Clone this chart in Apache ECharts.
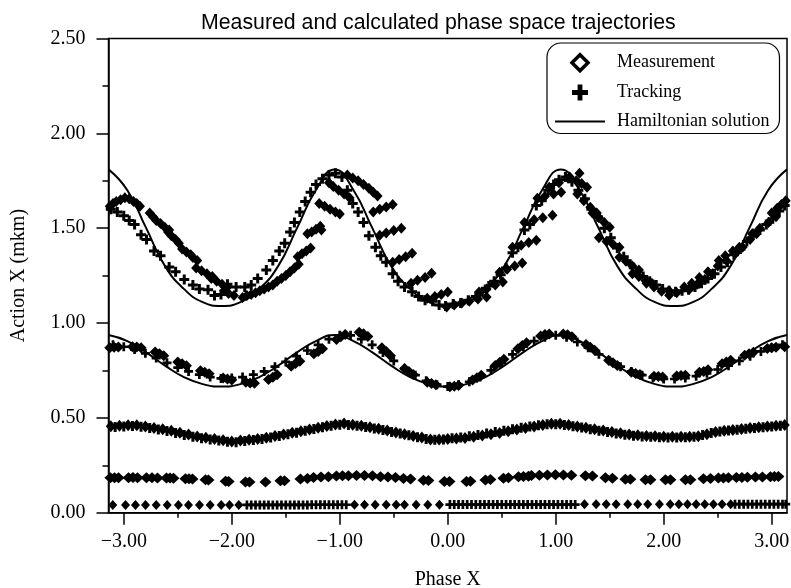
<!DOCTYPE html>
<html>
<head>
<meta charset="utf-8">
<title>Measured and calculated phase space trajectories</title>
<script src="https://cdn.jsdelivr.net/npm/echarts@6/dist/echarts.min.js"></script>
<style>
  html, body { margin: 0; padding: 0; background: #fff; }
  #chart { width: 791px; height: 588px; }
</style>
</head>
<body>
<div id="chart"></div>
<script>
// ---- Data -------------------------------------------------------------
// Phase samples (degrees) for the Hamiltonian solution curves
const PHASE_DEG = [-180,-170,-160,-150,-140,-130,-120,-110,-100,-90,-80,-70,-60,-50,-40,-30,-20,-10,
  0,10,20,30,40,50,60,70,80,90,100,110,120,130,140,150,160,170,180];

// Hamiltonian solution, outer invariant curve (action vs phase)
const HAM_OUTER = [1.81,1.70,1.50,1.30,1.18,1.11,1.09,1.11,1.18,1.30,1.50,1.70,1.81,1.70,1.50,1.30,1.18,1.11,
  1.09,1.11,1.18,1.30,1.50,1.70,1.81,1.70,1.50,1.30,1.18,1.11,1.09,1.11,1.18,1.30,1.50,1.70,1.81];

// Hamiltonian solution, inner invariant curve
const HAM_INNER = [0.937,0.905,0.845,0.775,0.715,0.678,0.665,0.678,0.715,0.775,0.845,0.905,0.937,0.905,0.845,0.775,0.715,0.678,
  0.665,0.678,0.715,0.775,0.845,0.905,0.937,0.905,0.845,0.775,0.715,0.678,0.665,0.678,0.715,0.775,0.845,0.905,0.937];

// Measured turns, largest amplitude [phase, action]
const MEAS_L1 = [
  [-3.13,1.615],[-3.10,1.63],[-3.07,1.64],[-3.03,1.65],[-2.99,1.66],[-2.95,1.655],
  [-2.91,1.64],[-2.88,1.63],[-2.85,1.615],
  [-2.76,1.58],[-2.73,1.56],
  [-2.70,1.54],[-2.66,1.525],[-2.62,1.505],[-2.58,1.49],
  [-2.59,1.48],[-2.56,1.46],[-2.52,1.44],[-2.49,1.42],
  [-2.46,1.39],[-2.42,1.375],[-2.38,1.36],
  [-2.36,1.345],[-2.32,1.33],
  [-2.33,1.29],[-2.28,1.275],[-2.23,1.26],[-2.18,1.245],
  [-2.19,1.235],[-2.14,1.22],[-2.09,1.205],[-2.04,1.19],
  [-2.07,1.17],[-2.03,1.155],[-1.98,1.145],
  [-1.90,1.135],[-1.86,1.145],[-1.82,1.15],[-1.78,1.16],[-1.74,1.17],[-1.70,1.18],[-1.66,1.19],
  [-1.62,1.20],[-1.58,1.22],[-1.54,1.235],[-1.50,1.25],[-1.46,1.27],[-1.42,1.29],[-1.38,1.31],
  [-1.39,1.35],[-1.35,1.365],[-1.31,1.38],[-1.27,1.395],
  [-1.30,1.47],[-1.26,1.48],[-1.22,1.495],[-1.18,1.51],
  [-1.17,1.49],
  [-1.19,1.63],[-1.14,1.615],[-1.09,1.60],[-1.04,1.585],[-1.00,1.575],
  [-1.10,1.74],[-1.06,1.72],[-1.01,1.70],[-0.96,1.68],[-0.91,1.66],
  [-0.93,1.78],[-0.88,1.765],[-0.83,1.75],[-0.78,1.73],[-0.73,1.71],[-0.69,1.69],[-0.65,1.67],
  [-0.69,1.585],[-0.63,1.60],[-0.57,1.612],[-0.51,1.625],
  [-0.63,1.463],[-0.57,1.475],[-0.50,1.488],[-0.43,1.50],
  [-0.51,1.32],[-0.45,1.335],[-0.39,1.35],[-0.33,1.368],
  [-0.34,1.21],[-0.28,1.225],[-0.21,1.24],[-0.15,1.263],
  [-0.19,1.13],[-0.12,1.14],[-0.06,1.15],[0.00,1.163],
  [-0.01,1.084],[0.06,1.095],[0.13,1.105],[0.20,1.115],[0.28,1.127],[0.36,1.137],
  [0.29,1.163],[0.36,1.18],[0.44,1.20],[0.51,1.216],
  [0.48,1.268],[0.55,1.284],[0.62,1.30],[0.69,1.316],
  [0.60,1.40],[0.68,1.41],[0.75,1.425],[0.82,1.437],
  [0.71,1.53],[0.80,1.545],[0.88,1.555],[0.97,1.568],
  [0.83,1.658],[0.90,1.668],[0.98,1.68],[1.05,1.69],
  [0.94,1.716],[1.03,1.74],[1.12,1.765],[1.22,1.79],
  [1.13,1.77],[1.19,1.75],[1.24,1.735],[1.29,1.716],
  [1.20,1.68],[1.26,1.645],[1.32,1.61],[1.38,1.58],
  [1.34,1.58],[1.40,1.555],[1.45,1.53],[1.50,1.505],
  [1.40,1.45],[1.47,1.43],[1.53,1.415],[1.59,1.40],
  [1.59,1.347],[1.65,1.325],[1.71,1.30],[1.77,1.28],
  [1.71,1.26],[1.77,1.245],[1.83,1.225],[1.89,1.21],
  [1.84,1.21],[1.91,1.19],[1.98,1.168],[2.05,1.147],
  [2.05,1.17],[2.12,1.16],[2.19,1.19],[2.26,1.21],
  [2.24,1.18],[2.31,1.205],[2.38,1.23],[2.45,1.26],
  [2.33,1.24],[2.41,1.27],[2.50,1.30],[2.58,1.33],
  [2.51,1.33],[2.57,1.355],[2.64,1.38],[2.70,1.40],
  [2.67,1.37],[2.73,1.40],[2.80,1.44],[2.86,1.47],
  [2.82,1.47],[2.89,1.50],[2.97,1.53],[3.04,1.56],
  [3.00,1.58],[3.05,1.605],[3.09,1.625],[3.13,1.645]
];

// Tracking, largest amplitude
const TRACK_L1 = [
  [-3.12,1.60],[-3.06,1.585],[-3.00,1.565],[-2.95,1.54],[-2.90,1.52],[-2.84,1.465],[-2.79,1.44],
  [-2.72,1.38],[-2.66,1.355],[-2.58,1.295],[-2.52,1.27],[-2.44,1.23],[-2.36,1.20],[-2.30,1.18],
  [-2.22,1.175],[-2.16,1.145],[-2.10,1.15],[-2.04,1.205],[-1.96,1.19],[-1.88,1.19],[-1.82,1.20],
  [-1.76,1.235],[-1.68,1.28],[-1.62,1.33],[-1.56,1.38],[-1.51,1.42],[-1.46,1.48],[-1.42,1.53],
  [-1.37,1.585],[-1.32,1.64],[-1.27,1.69],[-1.22,1.73],[-1.16,1.76],[-1.10,1.78],[-1.04,1.79],
  [-0.98,1.77],[-0.93,1.70],[-0.88,1.63],[-0.83,1.585],[-0.78,1.53],[-0.73,1.46],[-0.67,1.40],
  [-0.62,1.355],[-0.57,1.32],[-0.51,1.26],[-0.46,1.22],[-0.40,1.19],[-0.33,1.165],[-0.27,1.14],
  [-0.21,1.12],[-0.14,1.115],[-0.08,1.095],[-0.02,1.09],[0.05,1.10],[0.12,1.105],[0.19,1.12],
  [0.26,1.14],[0.32,1.165],[0.38,1.195],[0.43,1.22],[0.49,1.255],[0.54,1.29],[0.60,1.37],
  [0.65,1.40],[0.71,1.49],[0.76,1.52],[0.82,1.62],[0.87,1.645],[0.93,1.70],[0.98,1.73],
  [1.03,1.755],[1.09,1.77],[1.15,1.745],[1.21,1.70],[1.27,1.655],[1.33,1.60],[1.39,1.56],
  [1.45,1.50],[1.51,1.45],[1.57,1.395],[1.63,1.35],[1.69,1.31],[1.75,1.27],[1.81,1.245],
  [1.87,1.22],[1.93,1.20],[1.99,1.18],[2.05,1.17],[2.11,1.165],[2.17,1.17],[2.23,1.175],
  [2.29,1.19],[2.35,1.21],[2.41,1.235],[2.47,1.26],[2.53,1.295],[2.59,1.32],[2.65,1.36],
  [2.71,1.39],[2.77,1.43],[2.83,1.47],[2.89,1.49],[2.95,1.52],[3.01,1.55],[3.07,1.59],[3.12,1.62]
];

// Measured turns, second amplitude
const MEAS_L2 = [
  [-3.13,0.870],[-3.09,0.872],[-3.05,0.873],
  [-2.92,0.875],[-2.88,0.873],[-2.84,0.869],
  [-2.71,0.847],[-2.67,0.838],[-2.63,0.828],
  [-2.50,0.795],[-2.46,0.785],[-2.42,0.775],
  [-2.29,0.748],[-2.25,0.740],[-2.21,0.732],
  [-2.08,0.710],[-2.04,0.705],[-2.00,0.700],
  [-1.87,0.688],[-1.83,0.684],[-1.79,0.683],
  [-1.66,0.702],[-1.62,0.714],[-1.58,0.727],
  [-1.45,0.772],[-1.41,0.787],[-1.37,0.799],
  [-1.24,0.838],[-1.20,0.850],[-1.16,0.864],
  [-1.03,0.913],[-0.99,0.928],[-0.95,0.940],
  [-0.82,0.951],[-0.78,0.943],[-0.74,0.929],
  [-0.61,0.870],[-0.57,0.850],[-0.53,0.827],
  [-0.40,0.760],[-0.36,0.744],[-0.32,0.728],
  [-0.19,0.688],[-0.15,0.681],[-0.11,0.674],
  [0.02,0.664],[0.06,0.667],[0.10,0.670],
  [0.23,0.699],[0.27,0.711],[0.31,0.724],
  [0.44,0.776],[0.48,0.792],[0.52,0.809],
  [0.65,0.865],[0.69,0.881],[0.73,0.896],
  [0.86,0.932],[0.90,0.940],[0.94,0.942],
  [1.07,0.942],[1.11,0.938],[1.15,0.928],
  [1.28,0.887],[1.32,0.872],[1.36,0.856],
  [1.49,0.804],[1.53,0.790],[1.57,0.776],
  [1.70,0.740],[1.74,0.734],[1.78,0.728],
  [1.91,0.720],[1.95,0.718],[1.99,0.716],
  [2.12,0.721],[2.16,0.723],[2.20,0.725],
  [2.33,0.740],[2.37,0.745],[2.41,0.753],
  [2.54,0.785],[2.58,0.795],[2.62,0.804],
  [2.75,0.830],[2.79,0.838],[2.83,0.846],
  [2.96,0.866],[3.00,0.870],[3.04,0.872],
  [3.12,0.875]
];

// Tracking, second amplitude
const TRACK_L2 = [
  [-3.10,0.885],[-3.00,0.875],[-2.90,0.860],[-2.80,0.840],[-2.70,0.815],[-2.60,0.790],[-2.50,0.765],
  [-2.40,0.745],[-2.30,0.728],[-2.20,0.715],[-2.10,0.708],[-2.00,0.710],[-1.90,0.715],[-1.80,0.728],
  [-1.70,0.745],[-1.60,0.770],[-1.50,0.795],[-1.40,0.825],[-1.30,0.855],[-1.20,0.885],[-1.10,0.915],
  [-1.00,0.935],[-0.90,0.935],[-0.80,0.915],[-0.70,0.885],[-0.60,0.845],[-0.50,0.800],[-0.40,0.760],
  [-0.30,0.725],[-0.20,0.695],[-0.10,0.675],[0.00,0.665],[0.10,0.675],[0.20,0.690],[0.30,0.715],
  [0.40,0.750],[0.50,0.790],[0.60,0.835],[0.70,0.875],[0.80,0.905],[0.90,0.925],[1.00,0.935],
  [1.10,0.925],[1.20,0.900],[1.30,0.870],[1.40,0.835],[1.50,0.800],[1.60,0.770],[1.70,0.745],
  [1.80,0.725],[1.90,0.712],[2.00,0.705],[2.10,0.705],[2.20,0.710],[2.30,0.720],[2.40,0.735],
  [2.50,0.755],[2.60,0.775],[2.70,0.800],[2.80,0.825],[2.90,0.850],[3.00,0.870],[3.10,0.885]
];

// Measured turns, third amplitude
const MEAS_L3 = [
  [-3.12,0.456],[-3.04,0.458],[-2.96,0.461],[-2.88,0.461],[-2.80,0.454],[-2.72,0.447],[-2.64,0.440],
  [-2.56,0.432],[-2.48,0.422],[-2.40,0.412],[-2.32,0.402],[-2.24,0.395],[-2.16,0.388],[-2.08,0.382],
  [-2.00,0.375],[-1.92,0.380],[-1.84,0.385],[-1.76,0.389],[-1.68,0.395],[-1.60,0.404],[-1.52,0.412],
  [-1.44,0.421],[-1.36,0.430],[-1.28,0.439],[-1.20,0.448],[-1.12,0.457],[-1.04,0.465],[-0.96,0.470],
  [-0.88,0.464],[-0.80,0.458],[-0.72,0.451],[-0.64,0.442],[-0.56,0.433],[-0.48,0.423],[-0.40,0.414],
  [-0.32,0.405],[-0.24,0.396],[-0.16,0.386],[-0.08,0.386],[0.00,0.389],[0.08,0.391],[0.16,0.394],
  [0.24,0.400],[0.32,0.407],[0.40,0.413],[0.48,0.420],[0.56,0.429],[0.64,0.438],[0.72,0.446],
  [0.80,0.455],[0.88,0.462],[0.96,0.469],[1.04,0.469],[1.12,0.462],[1.20,0.455],[1.28,0.448],
  [1.36,0.440],[1.44,0.433],[1.52,0.426],[1.60,0.419],[1.68,0.412],[1.76,0.408],[1.84,0.405],
  [1.92,0.403],[2.00,0.400],[2.08,0.400],[2.16,0.400],[2.24,0.400],[2.32,0.403],[2.40,0.414],
  [2.48,0.425],[2.56,0.432],[2.64,0.436],[2.72,0.441],[2.80,0.446],[2.88,0.450],[2.96,0.454],
  [3.04,0.458],[3.12,0.462]
];

// Tracking, third amplitude
const TRACK_L3 = [
  [-3.08,0.452],[-3.00,0.455],[-2.92,0.457],[-2.84,0.453],[-2.76,0.446],[-2.68,0.439],[-2.60,0.431],
  [-2.52,0.420],[-2.44,0.410],[-2.36,0.400],[-2.28,0.393],[-2.20,0.386],[-2.12,0.380],[-2.04,0.374],
  [-1.96,0.372],[-1.88,0.378],[-1.80,0.383],[-1.72,0.388],[-1.64,0.397],[-1.56,0.405],[-1.48,0.413],
  [-1.40,0.422],[-1.32,0.432],[-1.24,0.441],[-1.16,0.450],[-1.08,0.458],[-1.00,0.464],[-0.92,0.463],
  [-0.84,0.458],[-0.76,0.452],[-0.68,0.444],[-0.60,0.436],[-0.52,0.426],[-0.44,0.417],[-0.36,0.408],
  [-0.28,0.398],[-0.20,0.389],[-0.12,0.384],[-0.04,0.386],[0.04,0.392],[0.12,0.397],[0.20,0.403],
  [0.28,0.410],[0.36,0.418],[0.44,0.425],[0.52,0.432],[0.60,0.440],[0.68,0.448],[0.76,0.455],
  [0.84,0.461],[0.92,0.466],[1.00,0.466],[1.08,0.462],[1.16,0.456],[1.24,0.449],[1.32,0.440],
  [1.40,0.432],[1.48,0.425],[1.56,0.418],[1.64,0.411],[1.72,0.406],[1.80,0.402],[1.88,0.400],
  [1.96,0.398],[2.04,0.397],[2.12,0.397],[2.20,0.398],[2.28,0.400],[2.36,0.410],[2.44,0.420],
  [2.52,0.428],[2.60,0.433],[2.68,0.437],[2.76,0.442],[2.84,0.446],[2.92,0.450],[3.00,0.454],[3.08,0.458]
];

// Measured turns, fourth amplitude
const MEAS_L4 = [
  [-3.124,0.184],[-3.086,0.184],[-3.049,0.184],
  [-2.956,0.184],[-2.915,0.185],[-2.873,0.184],
  [-2.790,0.184],[-2.739,0.184],[-2.688,0.183],
  [-2.605,0.183],[-2.572,0.183],[-2.540,0.182],
  [-2.429,0.179],[-2.396,0.179],[-2.364,0.178],
  [-2.243,0.174],[-2.216,0.173],
  [-2.057,0.166],[-2.029,0.165],
  [-1.873,0.162],[-1.836,0.162],
  [-1.688,0.162],
  [-1.549,0.168],[-1.512,0.168],
  [-1.364,0.178],[-1.299,0.180],
  [-1.243,0.186],[-1.174,0.188],[-1.105,0.190],
  [-1.031,0.194],[-0.975,0.195],[-0.920,0.195],
  [-0.845,0.196],[-0.771,0.196],[-0.697,0.195],
  [-0.623,0.190],[-0.554,0.188],[-0.484,0.186],
  [-0.410,0.180],[-0.345,0.178],
  [-0.225,0.171],[-0.179,0.170],
  [-0.031,0.165],[0.016,0.165],
  [0.173,0.165],[0.210,0.166],
  [0.349,0.173],[0.395,0.175],
  [0.516,0.182],[0.562,0.184],
  [0.655,0.190],[0.701,0.191],[0.747,0.192],
  [0.775,0.196],[0.849,0.198],[0.923,0.199],[0.997,0.200],[1.071,0.199],[1.145,0.197],
  [1.275,0.195],[1.340,0.194],
  [1.460,0.184],[1.525,0.182],
  [1.645,0.177],[1.691,0.177],
  [1.831,0.174],[1.877,0.174],
  [2.016,0.174],[2.062,0.174],
  [2.201,0.174],[2.247,0.174],
  [2.368,0.179],[2.433,0.180],
  [2.506,0.183],[2.553,0.183],[2.599,0.184],
  [2.673,0.186],[2.724,0.186],[2.775,0.187],
  [2.849,0.188],[2.914,0.188],
  [2.988,0.190],[3.025,0.191],[3.062,0.191]
];

// Measured turns, smallest amplitude
const MEAS_L5 = [
  [-3.102,0.040],[-2.984,0.040],[-2.892,0.040],[-2.799,0.040],[-2.700,0.040],[-2.598,0.040],
  [-2.494,0.040],[-2.401,0.040],[-2.299,0.040],[-2.200,0.041],[-2.098,0.041],[-2.021,0.041],[-1.935,0.041],
  [-0.864,0.042],[-0.771,0.042],[-0.672,0.042],[-0.570,0.042],[-0.478,0.042],[-0.401,0.042],
  [-0.293,0.042],[-0.185,0.042],[-0.077,0.042],
  [1.266,0.044],[1.374,0.044],[1.467,0.044],[1.559,0.044],[1.667,0.044],[1.759,0.044],[1.852,0.044],[1.960,0.044],
  [2.060,0.044],[2.140,0.044],[2.220,0.045],[2.300,0.045],[2.380,0.045],[2.460,0.045],[2.540,0.045],[2.620,0.045]
];

// Tracking, smallest amplitude
const TRACK_L5 = [
  [-1.86,0.041],[-1.82,0.041],[-1.78,0.041],[-1.74,0.041],[-1.70,0.041],[-1.66,0.041],[-1.62,0.041],
  [-1.58,0.041],[-1.54,0.041],[-1.50,0.041],[-1.46,0.041],[-1.42,0.041],[-1.38,0.041],[-1.34,0.041],
  [-1.30,0.041],[-1.26,0.042],[-1.22,0.042],[-1.18,0.042],[-1.14,0.042],[-1.10,0.042],[-1.06,0.042],
  [-1.02,0.042],[-0.98,0.042],[-0.94,0.042],
  [0.02,0.043],[0.06,0.043],[0.10,0.043],[0.14,0.043],[0.18,0.043],[0.22,0.043],[0.26,0.043],
  [0.30,0.043],[0.34,0.043],[0.38,0.043],[0.42,0.043],[0.46,0.043],[0.50,0.043],[0.54,0.043],
  [0.58,0.043],[0.62,0.043],[0.66,0.043],[0.70,0.043],[0.74,0.043],[0.78,0.043],[0.82,0.043],
  [0.86,0.043],[0.90,0.043],[0.94,0.043],[0.98,0.043],[1.02,0.043],[1.06,0.043],[1.10,0.043],[1.14,0.043],[1.18,0.043],
  [2.66,0.045],[2.70,0.045],[2.74,0.045],[2.78,0.045],[2.82,0.045],[2.86,0.045],[2.90,0.045],
  [2.94,0.045],[2.98,0.045],[3.02,0.045],[3.06,0.045],[3.10,0.045],[3.13,0.045]
];

// Axis ticks
const X_MAJOR_TICKS = [-3, -2, -1, 0, 1, 2, 3];
const X_MINOR_TICKS = [-2.5, -1.5, -0.5, 0.5, 1.5, 2.5];
const Y_TICK_STEP = 0.5;
const Y_MAX = 2.5;

// ---- Chart ------------------------------------------------------------
const SERIF = '"Liberation Serif", "Times New Roman", serif';
const SANS = '"Liberation Sans", Arial, sans-serif';
const PLUS = 'path://M3.5,0H6.5V3.5H10V6.5H6.5V10H3.5V6.5H0V3.5H3.5Z';
const DIAMOND = 'path://M5,0L10,5L5,10L0,5Z';
const LINE_ICON = 'path://M0,0H50V2H0Z';
const PHASE_MIN = -Math.PI, PHASE_MAX = Math.PI;

const toRad = d => d * Math.PI / 180;
const curve = vals => PHASE_DEG.map((d, i) => [toRad(d), vals[i]]);
const fmt = v => v.toFixed(2).replace('-', '\u2212');

const chart = echarts.init(document.getElementById('chart'), null, { renderer: 'canvas' });

const axisLine = { show: true, onZero: false, lineStyle: { color: '#000', width: 1.5 } };
const black = { color: '#000', opacity: 1 };

function measured(data, size) {
  return { name: 'Measurement', type: 'scatter', xAxisIndex: 0, data: data,
    symbol: 'diamond', symbolSize: size, itemStyle: black, z: 3 };
}
function tracked(data, size) {
  return { name: 'Tracking', type: 'scatter', xAxisIndex: 0, data: data,
    symbol: PLUS, symbolSize: size, itemStyle: black, z: 4 };
}
function hamiltonian(vals) {
  return { name: 'Hamiltonian solution', type: 'line', xAxisIndex: 0, data: curve(vals),
    smooth: 0.5, symbol: 'none', showSymbol: false,
    lineStyle: { color: '#000', width: 2 }, itemStyle: { color: '#000' }, z: 2 };
}

chart.setOption({
  backgroundColor: '#fff',
  animation: false,
  title: {
    text: 'Measured and calculated phase space trajectories',
    left: 196, top: 8,
    textStyle: { fontFamily: SANS, fontSize: 21.3, fontWeight: 'normal', color: '#000' }
  },
  grid: {
    left: 108.5, right: 4, top: 38.5, bottom: 75.3,
    outerBoundsMode: 'none',
    show: true, borderColor: '#000', borderWidth: 1.5, backgroundColor: 'transparent'
  },
  legend: {
    orient: 'vertical',
    left: 547, top: 43,
    padding: [10, 10, 3, 8],
    itemGap: 11,
    itemWidth: 50, itemHeight: 16,
    borderColor: '#000', borderWidth: 1.2, borderRadius: 14,
    backgroundColor: '#fff',
    selectedMode: false,
    textStyle: { fontFamily: SERIF, fontSize: 18, color: '#000', padding: [0, 0, 0, 7] },
    data: [
      { name: 'Measurement', icon: DIAMOND, itemStyle: { color: '#fff', borderColor: '#000', borderWidth: 3.5 } },
      { name: 'Tracking', icon: PLUS, itemStyle: { color: '#000' } },
      { name: 'Hamiltonian solution', icon: LINE_ICON, itemStyle: { color: '#000', borderWidth: 0 } }
    ]
  },
  xAxis: [{
    type: 'value', min: PHASE_MIN, max: PHASE_MAX,
    name: 'Phase X', nameLocation: 'middle', nameGap: 57,
    nameTextStyle: { fontFamily: SERIF, fontSize: 20, color: '#000' },
    axisLine: axisLine,
    axisTick: { show: true, inside: false, length: 12, customValues: X_MAJOR_TICKS, lineStyle: { color: '#000', width: 1.5 } },
    axisLabel: { show: true, margin: 19, customValues: X_MAJOR_TICKS, formatter: fmt,
      fontFamily: SERIF, fontSize: 20, color: '#000' },
    splitLine: { show: false }
  }, {
    type: 'value', min: PHASE_MIN, max: PHASE_MAX, position: 'bottom',
    axisLine: { show: false, onZero: false },
    axisTick: { show: true, inside: false, length: 5, customValues: X_MINOR_TICKS, lineStyle: { color: '#000', width: 1.5 } },
    axisLabel: { show: false },
    splitLine: { show: false }
  }],
  yAxis: {
    type: 'value', min: 0, max: Y_MAX, interval: Y_TICK_STEP,
    name: 'Action X (mkm)', nameLocation: 'middle', nameGap: 80,
    nameTextStyle: { fontFamily: SERIF, fontSize: 20, color: '#000' },
    axisLine: axisLine,
    axisTick: { show: true, inside: false, length: 12, lineStyle: { color: '#000', width: 1.5 } },
    minorTick: { show: true, splitNumber: 2, length: 6, lineStyle: { color: '#000', width: 1.5 } },
    axisLabel: { margin: 23, formatter: fmt, fontFamily: SERIF, fontSize: 20, color: '#000' },
    splitLine: { show: false }
  },
  series: [
    hamiltonian(HAM_OUTER),
    hamiltonian(HAM_INNER),
    measured(MEAS_L1, [10, 11]),
    measured(MEAS_L2, [11, 11]),
    measured(MEAS_L3, [10, 12]),
    measured(MEAS_L4, [12, 11]),
    measured(MEAS_L5, [9, 10]),
    tracked(TRACK_L1, 10),
    tracked(TRACK_L2, 9),
    tracked(TRACK_L3, 10),
    tracked(TRACK_L5, 9)
  ]
});
</script>
</body>
</html>
